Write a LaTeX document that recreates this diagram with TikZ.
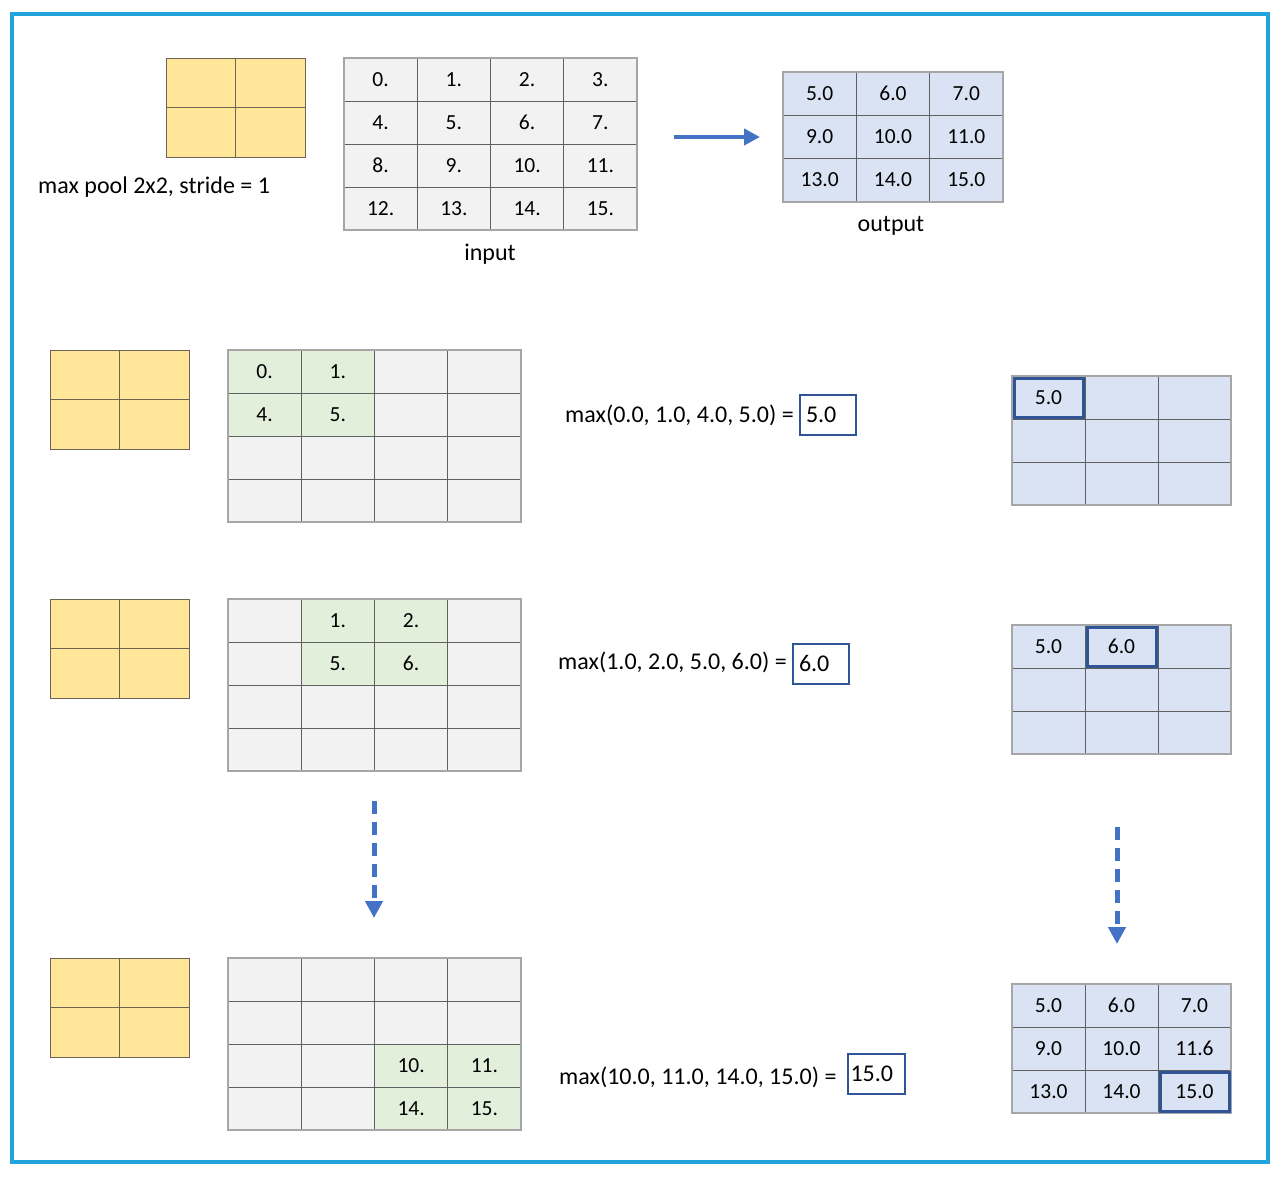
\documentclass[tikz,border=0pt]{standalone}
\usepackage{fontspec}
\setmainfont{Carlito}
\usetikzlibrary{arrows.meta}
\definecolor{frameblue}{HTML}{22A3D9}
\definecolor{arrblue}{HTML}{4472C4}
\definecolor{hlblue}{HTML}{2F5597}
\definecolor{cgray}{HTML}{F2F2F2}
\definecolor{cblue}{HTML}{DAE3F3}
\definecolor{cgreen}{HTML}{E2EFDA}
\definecolor{cyellow}{HTML}{FFE699}
\definecolor{gline}{HTML}{606060}
\definecolor{goline}{HTML}{A6A6A6}
\definecolor{kline}{HTML}{6B6450}
\newcommand{\mygrid}[7]{% name, x, y, cols, cw, ch, list of style/text
  \foreach \s/\t [count=\i from 0] in {#7} {
    \pgfmathtruncatemacro\rr{div(\i,#4)}
    \pgfmathtruncatemacro\cc{mod(\i,#4)}
    \node[\s, minimum width=#5pt, minimum height=#6pt] (#1-\rr-\cc)
      at ({#2+(\cc+0.5)*#5},{#3+(\rr+0.5)*#6}) {\t};
  }
}
\tikzset{
  cellbase/.style={draw=gline, line width=1pt, inner sep=0pt, outer sep=0pt,
    font=\fontsize{21.5}{24}\selectfont, text depth=0pt, text height=13pt},
  cg/.style={cellbase, fill=cgray},
  cgr/.style={cellbase, fill=cgreen},
  cb/.style={cellbase, fill=cblue},
  ck/.style={cellbase, draw=kline, fill=cyellow},
  outerg/.style={draw=goline, line width=1.2pt},
  hlbox/.style={draw=hlblue, line width=3pt},
  lbl/.style={font=\fontsize{24}{28}\selectfont, inner sep=0pt},
  resbox/.style={draw=hlblue, line width=2pt, fill=white, minimum height=40pt,
    align=left, font=\fontsize{24}{28}\selectfont},
  solidarr/.style={draw=arrblue, line width=4.5pt, -{Triangle[length=16pt,width=16pt]}},
  dasharr/.style={draw=arrblue, line width=5pt, dash pattern=on 13pt off 8pt,
    -{Triangle[length=17pt,width=17pt]}},
}
\begin{document}
\begin{tikzpicture}[x=1pt,y=-1pt]
\useasboundingbox (0,0) rectangle (1280,1179);
\draw[frameblue, line width=4pt] (12,14) rectangle (1268,1162);

% ---------- top row ----------
\mygrid{k0}{166}{58}{2}{69.5}{49.5}{ck/,ck/,ck/,ck/}
\node[lbl, anchor=west] (lblpool) at (38,187) {max pool 2x2, stride = 1};
\mygrid{in}{344}{58}{4}{73.25}{43}{cg/0.,cg/1.,cg/2.,cg/3.,cg/4.,cg/5.,cg/6.,cg/7.,cg/8.,cg/9.,cg/10.,cg/11.,cg/12.,cg/13.,cg/14.,cg/15.}
\draw[outerg] (in-0-0.north west) rectangle (in-3-3.south east);
\node[lbl] (lblin) at (490,254) {input};
\coordinate (a0s) at (674,137);
\coordinate (a0e) at (760,137);
\draw[solidarr] (a0s) -- (a0e);
\mygrid{out}{783}{72}{3}{73.33}{43.33}{cb/5.0,cb/6.0,cb/7.0,cb/9.0,cb/10.0,cb/11.0,cb/13.0,cb/14.0,cb/15.0}
\draw[outerg] (out-0-0.north west) rectangle (out-2-2.south east);
\node[lbl] (lblout) at (891,226) {output};

% ---------- step 1 ----------
\mygrid{k1}{50}{350}{2}{69.5}{49.5}{ck/,ck/,ck/,ck/}
\mygrid{g1}{228}{350}{4}{73.25}{43}{cgr/0.,cgr/1.,cg/,cg/,cgr/4.,cgr/5.,cg/,cg/,cg/,cg/,cg/,cg/,cg/,cg/,cg/,cg/}
\draw[outerg] (g1-0-0.north west) rectangle (g1-3-3.south east);
\node[lbl, anchor=west] (eq1) at (565,415) {max(0.0, 1.0, 4.0, 5.0) =};
\node[resbox, text width=44pt, inner xsep=6pt] (r1) at (828,415) {5.0};
\mygrid{o1}{1012}{376}{3}{73}{43}{cb/5.0,cb/,cb/,cb/,cb/,cb/,cb/,cb/,cb/}
\draw[outerg] (o1-0-0.north west) rectangle (o1-2-2.south east);
\draw[hlbox] ([shift={(2pt,-2pt)}]o1-0-0.north west) rectangle ([shift={(-2pt,2pt)}]o1-0-0.south east);

% ---------- step 2 ----------
\mygrid{k2}{50}{599}{2}{69.5}{49.5}{ck/,ck/,ck/,ck/}
\mygrid{g2}{228}{599}{4}{73.25}{43}{cg/,cgr/1.,cgr/2.,cg/,cg/,cgr/5.,cgr/6.,cg/,cg/,cg/,cg/,cg/,cg/,cg/,cg/,cg/}
\draw[outerg] (g2-0-0.north west) rectangle (g2-3-3.south east);
\node[lbl, anchor=west] (eq2) at (558,662) {max(1.0, 2.0, 5.0, 6.0) =};
\node[resbox, text width=44pt, inner xsep=6pt] (r2) at (821,663.5) {6.0};
\mygrid{o2}{1012}{625}{3}{73}{43}{cb/5.0,cb/6.0,cb/,cb/,cb/,cb/,cb/,cb/,cb/}
\draw[outerg] (o2-0-0.north west) rectangle (o2-2-2.south east);
\draw[hlbox] ([shift={(2pt,-2pt)}]o2-0-1.north west) rectangle ([shift={(-2pt,2pt)}]o2-0-1.south east);

% ---------- dashed arrows ----------
\coordinate (d1s) at (374,801);
\coordinate (d1e) at (374,918);
\draw[dasharr] (d1s) -- (d1e);
\coordinate (d2s) at (1117,827);
\coordinate (d2e) at (1117,944);
\draw[dasharr] (d2s) -- (d2e);

% ---------- step 3 ----------
\mygrid{k3}{50}{958}{2}{69.5}{49.5}{ck/,ck/,ck/,ck/}
\mygrid{g3}{228}{958}{4}{73.25}{43}{cg/,cg/,cg/,cg/,cg/,cg/,cg/,cg/,cg/,cg/,cgr/10.,cgr/11.,cg/,cg/,cgr/14.,cgr/15.}
\draw[outerg] (g3-0-0.north west) rectangle (g3-3-3.south east);
\node[lbl, anchor=west] (eq3) at (559,1077) {max(10.0, 11.0, 14.0, 15.0) =};
\node[resbox, text width=52pt, inner xsep=2.5pt] (r3) at (876.5,1073.5) {15.0};
\mygrid{o3}{1012}{984}{3}{73}{43}{cb/5.0,cb/6.0,cb/7.0,cb/9.0,cb/10.0,cb/11.6,cb/13.0,cb/14.0,cb/15.0}
\draw[outerg] (o3-0-0.north west) rectangle (o3-2-2.south east);
\draw[hlbox] ([shift={(2pt,-2pt)}]o3-2-2.north west) rectangle ([shift={(-2pt,2pt)}]o3-2-2.south east);
\end{tikzpicture}
\end{document}
